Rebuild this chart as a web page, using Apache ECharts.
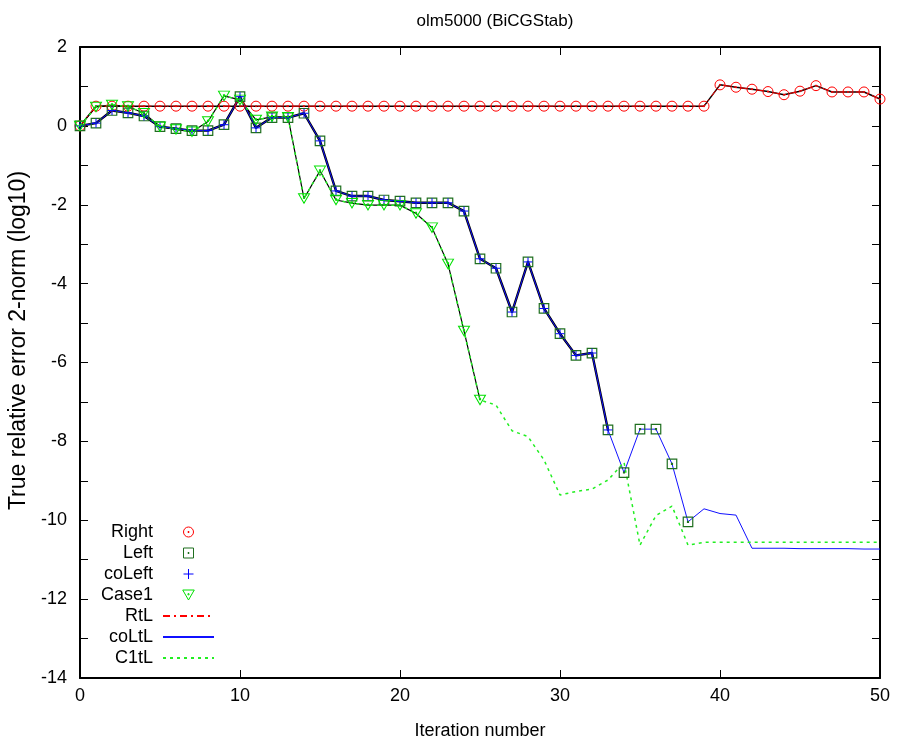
<!DOCTYPE html>
<html>
<head>
<meta charset="utf-8">
<script src="https://cdn.jsdelivr.net/npm/echarts@6/dist/echarts.min.js"></script>
<style>
  html, body { margin: 0; padding: 0; background: #fff; }
  #chart { width: 897px; height: 742px; }
</style>
</head>
<body>
<div id="chart"></div>
<script>
// Iteration index shared by every series
const iterations = [0, 1, 2, 3, 4, 5, 6, 7, 8, 9, 10, 11, 12, 13, 14, 15, 16, 17, 18, 19, 20,
  21, 22, 23, 24, 25, 26, 27, 28, 29, 30, 31, 32, 33, 34, 35, 36, 37, 38, 39, 40,
  41, 42, 43, 44, 45, 46, 47, 48, 49, 50];

// log10 of the true relative error, per preconditioning variant
const rightErr = [0, 0.5, 0.5, 0.5, 0.5, 0.5, 0.5, 0.5, 0.5, 0.5, 0.5,
  0.5, 0.5, 0.5, 0.5, 0.5, 0.5, 0.5, 0.5, 0.5, 0.5,
  0.5, 0.5, 0.5, 0.5, 0.5, 0.5, 0.5, 0.5, 0.5, 0.5,
  0.5, 0.5, 0.5, 0.5, 0.5, 0.5, 0.5, 0.5, 0.5,
  1.04, 0.98, 0.93, 0.87, 0.79, 0.88, 1.02, 0.86, 0.86, 0.86, 0.68];

const leftErr = [0, 0.07, 0.39, 0.33, 0.25, -0.02, -0.07, -0.12, -0.12, 0.03, 0.74,
  -0.05, 0.21, 0.21, 0.32, -0.38, -1.65, -1.78, -1.78, -1.88, -1.91,
  -1.95, -1.95, -1.95, -2.16, -3.37, -3.61, -4.72, -3.45, -4.63, -5.27,
  -5.82, -5.76, -7.71, -8.79, -7.69, -7.69, -8.57, -10.04];

const coLeftErr = [0, 0.07, 0.39, 0.33, 0.25, -0.02, -0.07, -0.12, -0.12, 0.03, 0.74,
  -0.05, 0.21, 0.21, 0.32, -0.38, -1.65, -1.78, -1.78, -1.88, -1.91,
  -1.95, -1.95, -1.95, -2.16, -3.37, -3.61, -4.72, -3.45, -4.63, -5.27,
  -5.82, -5.76, -7.71];

const case1Err = [0, 0.48, 0.53, 0.49, 0.32, -0.02, -0.09, -0.15, 0.11, 0.76, 0.66,
  0.15, 0.23, 0.22, -1.84, -1.14, -1.88, -1.96, -2.01, -2.01, -2.01,
  -2.22, -2.58, -3.50, -5.20, -6.95];

const rtlErr = [0, 0.5, 0.5, 0.5, 0.5, 0.5, 0.5, 0.5, 0.5, 0.5, 0.5,
  0.5, 0.5, 0.5, 0.5, 0.5, 0.5, 0.5, 0.5, 0.5, 0.5,
  0.5, 0.5, 0.5, 0.5, 0.5, 0.5, 0.5, 0.5, 0.5, 0.5,
  0.5, 0.5, 0.5, 0.5, 0.5, 0.5, 0.5, 0.5, 0.5,
  1.04, 0.98, 0.93, 0.87, 0.79, 0.88, 1.02, 0.86, 0.86, 0.86, 0.68];

const coLtlErr = [0, 0.07, 0.39, 0.33, 0.25, -0.02, -0.07, -0.12, -0.12, 0.03, 0.74,
  -0.05, 0.21, 0.21, 0.32, -0.38, -1.65, -1.78, -1.78, -1.88, -1.91,
  -1.95, -1.95, -1.95, -2.16, -3.37, -3.61, -4.72, -3.45, -4.63, -5.27,
  -5.82, -5.76, -7.71, -8.79, -7.69, -7.69, -8.57, -10.04, -9.71, -9.83,
  -9.87, -10.71, -10.71, -10.71, -10.72, -10.72, -10.72, -10.72, -10.73, -10.73];

const c1tlErr = [0, 0.48, 0.53, 0.49, 0.32, -0.02, -0.09, -0.15, 0.11, 0.76, 0.66,
  0.15, 0.23, 0.22, -1.84, -1.14, -1.88, -1.96, -2.01, -2.01, -2.01,
  -2.22, -2.58, -3.50, -5.20, -6.95, -7.08, -7.73, -7.88, -8.47, -9.36,
  -9.27, -9.21, -8.98, -8.53, -10.63, -9.88, -9.64, -10.63, -10.56, -10.56,
  -10.56, -10.56, -10.56, -10.56, -10.56, -10.56, -10.56, -10.56, -10.56, -10.56];

const xTicks = { min: 0, max: 50, step: 10 };
const yTicks = { min: -14, max: 2, step: 1, labelStep: 2 };

const FONT = "'Liberation Sans', Arial, sans-serif";
const FS = 18;

const pairs = (vals) => vals.map((v, i) => [iterations[i], v]);

// Point symbols, each with a small dot in its centre
const circleSym = 'path://M0,5A5,5 0 1,1 10,5A5,5 0 1,1 0,5Z M4.5,4.5H5.5V5.5H4.5Z';
const squareSym = 'path://M0,0H10V10H0Z M4.5,4.5H5.5V5.5H4.5Z';
const triSym = 'path://M0,0H10L5,8.66Z M4.5,3.2H5.5V4.2H4.5Z';
const plusSym = 'path://M0,5H10M5,0V10';

const hollow = (stroke, w) => ({ color: 'rgba(0,0,0,0)', borderColor: stroke, borderWidth: w || 1 });
const noMark = { opacity: 0 };

const chart = echarts.init(document.getElementById('chart'), null, { renderer: 'canvas' });

const axisCommon = {
  type: 'value',
  axisLine: { show: true, onZero: false, lineStyle: { color: '#000', width: 2 } },
  axisTick: { show: true, inside: true, length: 8, lineStyle: { color: '#000', width: 1 } },
  splitLine: { show: false }
};

chart.setOption({
  animation: false,
  backgroundColor: '#fff',
  title: {
    text: 'olm5000 (BiCGStab)',
    left: 490,
    textAlign: 'center',
    top: 8,
    textStyle: { fontFamily: FONT, fontSize: 17, fontWeight: 'normal', color: '#000' }
  },
  grid: { left: 80, right: 17, top: 47, bottom: 64, containLabel: false, outerBoundsMode: 'none' },
  xAxis: [
    Object.assign({}, axisCommon, {
      position: 'bottom',
      min: xTicks.min, max: xTicks.max, interval: xTicks.step,
      name: 'Iteration number',
      nameLocation: 'middle',
      nameGap: 44,
      nameTextStyle: { fontFamily: FONT, fontSize: FS, color: '#000' },
      axisLabel: { fontFamily: FONT, fontSize: FS, color: '#000', margin: 9 }
    }),
    Object.assign({}, axisCommon, {
      position: 'top',
      min: xTicks.min, max: xTicks.max, interval: xTicks.step,
      axisLabel: { show: false }
    })
  ],
  yAxis: [
    Object.assign({}, axisCommon, {
      position: 'left',
      min: yTicks.min, max: yTicks.max, interval: yTicks.step,
      name: 'True relative error 2-norm (log10)',
      nameLocation: 'middle',
      nameGap: 49,
      nameTextStyle: { fontFamily: FONT, fontSize: 23, color: '#000', padding: [0, 0, 0, 44] },
      axisLabel: {
        fontFamily: FONT, fontSize: FS, color: '#000', margin: 13,
        formatter: (v) => (v % yTicks.labelStep === 0 ? String(v) : '')
      }
    }),
    Object.assign({}, axisCommon, {
      position: 'right',
      min: yTicks.min, max: yTicks.max, interval: yTicks.step,
      axisLabel: { show: false }
    })
  ],
  legend: {
    orient: 'vertical',
    left: 73,
    top: 517,
    align: 'right',
    itemWidth: 51,
    itemHeight: 10,
    itemGap: 1,
    padding: 5,
    selectedMode: false,
    symbolKeepAspect: true,
    textStyle: {
      fontFamily: FONT, fontSize: FS, color: '#000', lineHeight: 20,
      width: 75, align: 'right', padding: [0, 5, 0, 0]
    },
    data: [
      { name: 'Right', icon: circleSym, itemStyle: hollow('#ff0000') },
      { name: 'Left', icon: squareSym, itemStyle: hollow('#1f6f1f') },
      { name: 'coLeft', icon: plusSym, itemStyle: hollow('#0000ff') },
      { name: 'Case1', icon: triSym, itemStyle: hollow('#00e000') },
      { name: 'RtL', itemStyle: noMark },
      { name: 'coLtL', itemStyle: noMark },
      { name: 'C1tL', itemStyle: noMark }
    ]
  },
  series: [
    {
      name: 'Right', type: 'line', data: pairs(rightErr),
      symbol: circleSym, symbolSize: 10, showAllSymbol: true,
      itemStyle: hollow('#ff0000'),
      lineStyle: { color: '#000', width: 1.5 }
    },
    {
      name: 'Left', type: 'line', data: pairs(leftErr),
      symbol: squareSym, symbolSize: 9.5, showAllSymbol: true,
      itemStyle: hollow('#1f6f1f', 1.2),
      lineStyle: { width: 0, opacity: 0 }
    },
    {
      name: 'coLeft', type: 'line', data: pairs(coLeftErr),
      symbol: plusSym, symbolSize: 9, showAllSymbol: true,
      itemStyle: hollow('#0000ff'),
      lineStyle: { color: '#000', width: 2.4 }
    },
    {
      name: 'Case1', type: 'line', data: pairs(case1Err),
      symbol: triSym, symbolSize: [11, 9.5], showAllSymbol: true,
      itemStyle: hollow('#00e000'),
      lineStyle: { color: '#000', width: 1.2 }
    },
    {
      name: 'RtL', type: 'line', data: pairs(rtlErr), symbol: 'none',
      color: '#ff0000', itemStyle: noMark,
      lineStyle: { color: '#ff0000', width: 1, type: [7, 4, 2, 4] }
    },
    {
      name: 'coLtL', type: 'line', data: pairs(coLtlErr), symbol: 'none',
      color: '#0000ff', itemStyle: noMark,
      lineStyle: { color: '#1010ff', width: 1 }
    },
    {
      name: 'C1tL', type: 'line', data: pairs(c1tlErr), symbol: 'none',
      color: '#00ee00', itemStyle: noMark,
      lineStyle: { color: '#22ee22', width: 1.5, type: [3, 4] }
    }
  ]
});
</script>
</body>
</html>
